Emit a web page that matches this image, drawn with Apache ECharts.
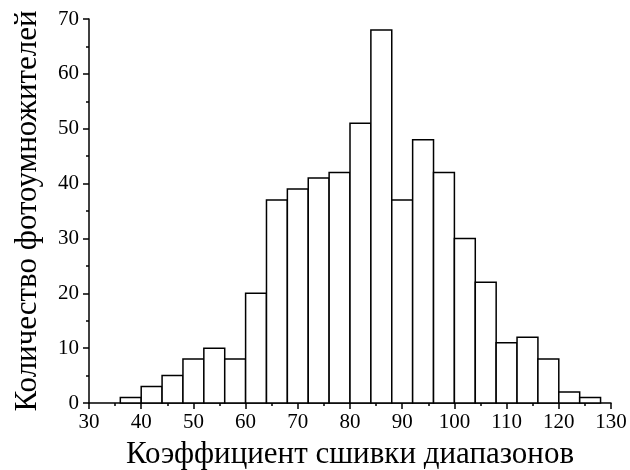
<!DOCTYPE html>
<html><head><meta charset="utf-8">
<script src="https://cdn.jsdelivr.net/npm/echarts@6/dist/echarts.min.js"></script>
<style>html,body{margin:0;padding:0;background:#fff}#c{width:630px;height:470px}</style>
</head><body><div id="c"></div>
<script>
var binStarts = [36,40,44,48,52,56,60,64,68,72,76,80,84,88,92,96,100,104,108,112,116,120,124];
var binWidth = 4;
var counts = [1,3,5,8,10,8,20,37,39,41,42,51,68,37,48,42,30,22,11,12,8,2,1];
var xTitle = 'Коэффициент сшивки диапазонов';
var yTitle = 'Количество фотоумножителей';

var data = binStarts.map(function(s,i){return [s, s+binWidth, counts[i]];});
var font = 'Liberation Serif';
var chart = echarts.init(document.getElementById('c'));
chart.setOption({
  animation:false,
  grid:{left:89,right:19,top:19,bottom:67,containLabel:false,outerBoundsMode:'none'},
  xAxis:{type:'value',min:30,max:130,interval:10,
    name:xTitle,nameLocation:'middle',nameGap:36,
    nameTextStyle:{fontFamily:font,fontSize:31,color:'#000'},
    axisLine:{show:true,onZero:false,lineStyle:{color:'#000',width:1.5}},
    axisTick:{show:true,inside:false,length:6,lineStyle:{color:'#000',width:1.5}},
    minorTick:{show:true,splitNumber:2,length:3,lineStyle:{color:'#000',width:1.5}},
    axisLabel:{fontFamily:font,fontSize:21,color:'#000',margin:9},
    splitLine:{show:false}},
  yAxis:{type:'value',min:0,max:70,interval:10,
    name:yTitle,nameLocation:'middle',nameGap:46,
    nameTextStyle:{fontFamily:font,fontSize:31,color:'#000'},
    axisLine:{show:true,lineStyle:{color:'#000',width:1.5}},
    axisTick:{show:true,inside:false,length:6,lineStyle:{color:'#000',width:1.5}},
    minorTick:{show:true,splitNumber:2,length:3,lineStyle:{color:'#000',width:1.5}},
    axisLabel:{fontFamily:font,fontSize:21,color:'#000',margin:10},
    splitLine:{show:false}},
  series:[{type:'custom',
    renderItem:function(params,api){
      var p0=api.coord([api.value(0),0]);
      var p1=api.coord([api.value(1),api.value(2)]);
      return {type:'rect',shape:{x:p0[0],y:p1[1],width:p1[0]-p0[0],height:p0[1]-p1[1]},
        style:{fill:'#fff',stroke:'#000',lineWidth:1.5}};
    },
    encode:{x:[0,1],y:2},
    data:data}]
});
</script></body></html>
